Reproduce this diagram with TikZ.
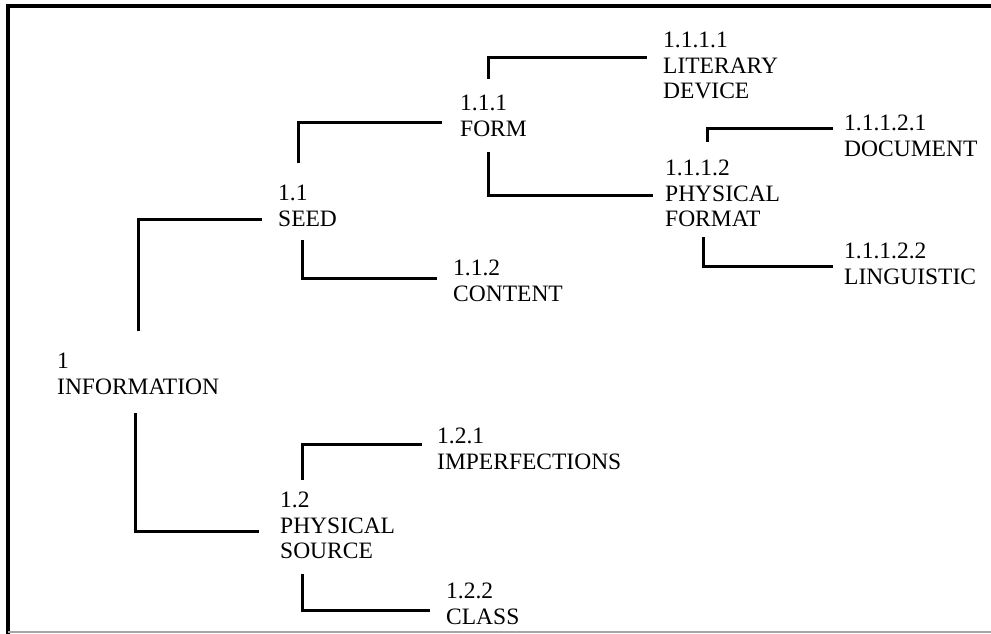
\documentclass[tikz,border=0pt]{standalone}
\usepackage{fontspec}
\setmainfont{Liberation Serif}
\usepackage{tikz}
\usetikzlibrary{calc}

\tikzset{
  term/.style={anchor=north west, inner sep=0pt, align=left, font=\fontsize{23.5}{25.5}\selectfont},
  branch/.style={line width=3pt},
  frame/.style={line width=3.2pt}
}

\begin{document}
\begin{tikzpicture}[x=1pt, y=-1pt]
    \useasboundingbox (0,0) rectangle (991,634);
    % frame
    \draw[frame] (991,6) -- (8,6) -- (8,634);
    \draw[black!35, line width=1.2pt] (8,632) -- (991,632);

    \node[term] (info) at (57,353) {1\\INFORMATION};
    \node[term] (seed) at (278,185) {1.1\\SEED};
    \node[term] (form) at (460,95) {1.1.1\\FORM};
    \node[term] (litdev) at (663,32) {1.1.1.1\\LITERARY\\DEVICE};
    \node[term] (physfmt) at (665,160) {1.1.1.2\\PHYSICAL\\FORMAT};
    \node[term] (doc) at (844,115) {1.1.1.2.1\\DOCUMENT};
    \node[term] (ling) at (844,243) {1.1.1.2.2\\LINGUISTIC};
    \node[term] (content) at (453,260) {1.1.2\\CONTENT};
    \node[term] (physsrc) at (280,492) {1.2\\PHYSICAL\\SOURCE};
    \node[term] (imperf) at (437,428) {1.2.1\\IMPERFECTIONS};
    \node[term] (class) at (446,583) {1.2.2\\CLASS};

    \draw[branch] ($(info.north west)+(81,-22)$) |- ($(seed.north west)+(-16,34)$);
    \draw[branch] ($(info.north west)+(78,60)$) |- ($(physsrc.north west)+(-21,39)$);
    \draw[branch] ($(seed.north west)+(20,-22)$) |- ($(form.north west)+(-18,27)$);
    \draw[branch] ($(seed.north west)+(24,55)$) |- ($(content.north west)+(-16,18)$);
    \draw[branch] ($(form.north west)+(28,-16)$) |- ($(litdev.north west)+(-16,26)$);
    \draw[branch] ($(form.north west)+(28,57)$) |- ($(physfmt.north west)+(-12,35)$);
    \draw[branch] ($(physfmt.north west)+(42,-18)$) |- ($(doc.north west)+(-11,13)$);
    \draw[branch] ($(physfmt.north west)+(38,77)$) |- ($(ling.north west)+(-11,23)$);
    \draw[branch] ($(physsrc.north west)+(22,-12)$) |- ($(imperf.north west)+(-15,16)$);
    \draw[branch] ($(physsrc.north west)+(22,82)$) |- ($(class.north west)+(-16,27)$);
\end{tikzpicture}
\end{document}
